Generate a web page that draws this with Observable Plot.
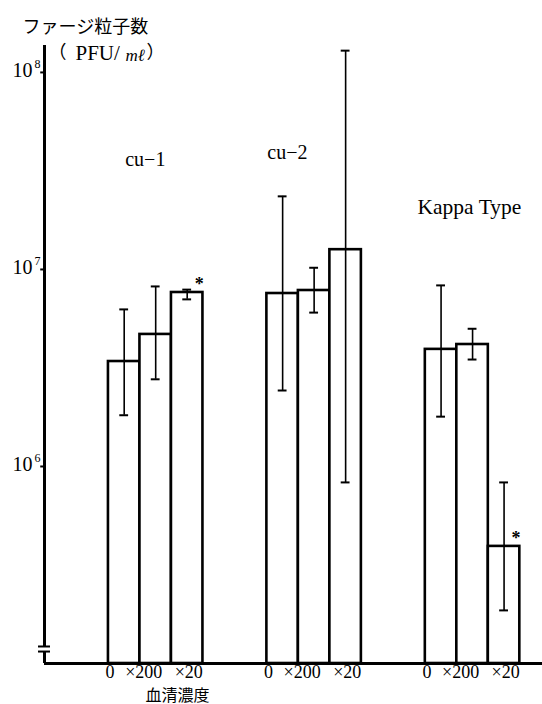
<!DOCTYPE html>
<html>
<head>
<meta charset="utf-8">
<script src="https://cdn.jsdelivr.net/npm/d3@7"></script>
<script src="https://cdn.jsdelivr.net/npm/@observablehq/plot@0.6"></script>
<style>
  html, body { margin: 0; padding: 0; background: #fff; }
</style>
</head>
<body>
<div id="chart"></div>
<script>
// ---- data ----
const groups = ["cu-1", "cu-2", "Kappa Type"];
const serum = ["0", "×200", "×20"];
const means   = [[3.41e6, 4.68e6, 7.64e6], [7.55e6, 7.82e6, 1.26e7], [3.93e6, 4.16e6, 3.93e5]];
const errHigh = [[6.27e6, 8.2e6, 7.9e6],   [2.35e7, 1.02e7, 1.29e8], [8.3e6, 5.0e6, 8.3e5]];
const errLow  = [[1.82e6, 2.77e6, 7.05e6], [2.43e6, 6.04e6, 8.3e5],  [1.79e6, 3.49e6, 1.86e5]];
const significant = [[false, false, true], [false, false, false], [false, false, true]];
const yTicks = [1e6, 1e7, 1e8];
const xLabel = "血清濃度";
const yTitle1 = "ファージ粒子数";

// ---- layout ----
const groupStep = 5.03;          // in bar widths
const xMin = -2.03, xMax = 13.78;
const yBase = 1e5, yTop = 1.37e8;
const breakHi = 1.22e5, breakLo = 1.15e5;
const serif = "'Liberation Serif', 'Noto Sans CJK JP', serif";
const cjk = "'Noto Sans CJK JP', sans-serif";
const serumOffset = [0.05, 1.12, 2.55];

const rows = [];
groups.forEach((g, gi) => serum.forEach((s, bi) => {
  const x1 = gi * groupStep + bi;
  rows.push({group: g, gi, bi, serum: s, x1, x2: x1 + 1, xc: x1 + 0.5,
    mean: means[gi][bi], lo: errLow[gi][bi], hi: errHigh[gi][bi], sig: significant[gi][bi]});
}));
const capW = 0.14;

const groupLabelPos = [
  {x: 1.17, y: 3.6e7, size: 20},
  {x: groupStep + 0.65, y: 3.9e7, size: 20},
  {x: 2 * groupStep + 1.4, y: 2.07e7, size: 21.5}
];

const chart = Plot.plot({
  width: 542,
  height: 704,
  marginLeft: 44,
  marginRight: 0,
  marginTop: 45,
  marginBottom: 41,
  style: {background: "#fff", color: "#000", fontFamily: serif},
  x: {domain: [xMin, xMax], axis: null},
  y: {type: "log", domain: [yBase, yTop], axis: null},
  marks: [
    // y ticks and 10^n labels
    Plot.ruleY(yTicks, {x1: xMin - 0.12, x2: xMin, strokeWidth: 2}),
    Plot.text(yTicks, {x: xMin, y: d => d, text: () => "10", textAnchor: "end", dx: -12, dy: -2,
      fontSize: 20, fontFamily: serif}),
    Plot.text(yTicks, {x: xMin, y: d => d, text: d => String(Math.round(Math.log10(d))),
      textAnchor: "end", dx: -4, dy: -8, fontSize: 12, fontFamily: serif}),
    // axis line with a break
    Plot.ruleX([xMin], {y1: breakHi, y2: yTop, strokeWidth: 3}),
    Plot.ruleX([xMin], {y1: yBase, y2: breakLo, strokeWidth: 3}),
    Plot.ruleY([breakHi, breakLo], {x1: xMin - 0.19, x2: xMin + 0.19, strokeWidth: 2}),
    // baseline
    Plot.ruleY([yBase], {x1: xMin, x2: xMax, strokeWidth: 3}),
    // bars
    Plot.rect(rows, {x1: "x1", x2: "x2", y1: yBase, y2: "mean", fill: "#fff", stroke: "#000", strokeWidth: 2.6}),
    // error bars
    Plot.ruleX(rows, {x: "xc", y1: "lo", y2: "hi", strokeWidth: 1.6}),
    Plot.ruleY(rows, {y: "hi", x1: d => d.xc - capW, x2: d => d.xc + capW, strokeWidth: 2}),
    Plot.ruleY(rows, {y: "lo", x1: d => d.xc - capW, x2: d => d.xc + capW, strokeWidth: 2}),
    // significance asterisks
    Plot.text(rows.filter(d => d.sig), {x: d => d.xc + 0.38, y: "mean", text: () => "*",
      dy: -8, fontSize: 18, fontWeight: "bold", fontFamily: serif}),
    // group labels
    Plot.text(groups, {x: (d, i) => groupLabelPos[i].x, y: (d, i) => groupLabelPos[i].y,
      text: d => d.replace("-", "−"), fontSize: (d, i) => groupLabelPos[i].size, fontFamily: serif}),
    // serum dilution labels under each bar
    Plot.text(rows, {x: d => d.gi * groupStep + serumOffset[d.bi], frameAnchor: "bottom",
      text: "serum", dy: 14, fontSize: 18, fontFamily: serif}),
    Plot.text([xLabel], {x: 2.19, frameAnchor: "bottom", dy: 37, fontSize: 16, fontFamily: cjk}),
    // y title
    Plot.text([yTitle1], {frameAnchor: "top-left", dx: -22, dy: -25, textAnchor: "start",
      fontSize: 18, fontFamily: cjk}),
    Plot.text(["（"], {frameAnchor: "top-left", dx: 4, dy: 0, textAnchor: "start", fontSize: 18, fontFamily: cjk}),
    Plot.text(["PFU/"], {frameAnchor: "top-left", dx: 31, dy: 0, textAnchor: "start", fontSize: 21, fontFamily: serif}),
    Plot.text(["mℓ"], {frameAnchor: "top-left", dx: 81, dy: 3, textAnchor: "start", fontSize: 17,
      fontStyle: "italic", fontFamily: serif}),
    Plot.text(["）"], {frameAnchor: "top-left", dx: 102, dy: 0, textAnchor: "start", fontSize: 18, fontFamily: cjk})
  ]
});
document.getElementById("chart").appendChild(chart);
</script>
</body>
</html>
